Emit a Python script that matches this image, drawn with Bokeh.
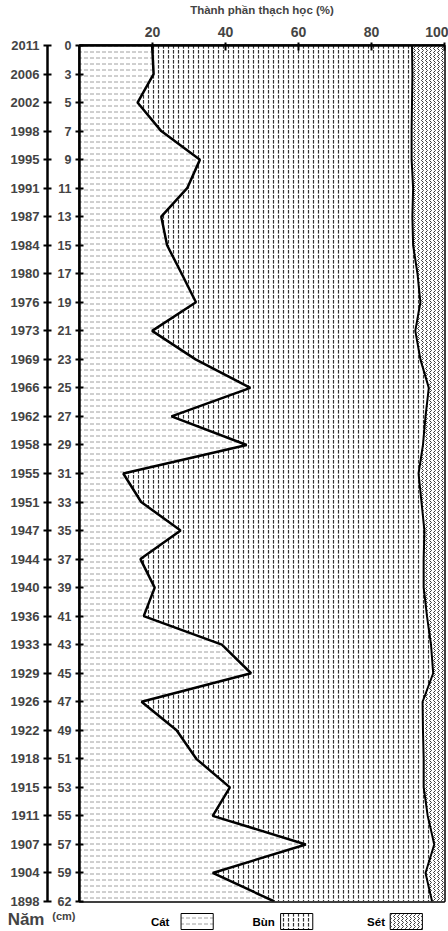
#Sediment core: lithologic composition by depth

#Import the required packages

from bokeh.plotting import figure
from bokeh.layouts import column
from bokeh.models import LinearAxis, FixedTicker, Range1d
from bokeh.core.properties import value
from bokeh.embed import file_html
from bokeh.resources import INLINE

#Values (top to bottom of the core)

depth_cm = ["0", "3", "5", "7", "9", "11", "13", "15", "17", "19", "21", "23", "25", "27", "29",
            "31", "33", "35", "37", "39", "41", "43", "45", "47", "49", "51", "53", "55", "57", "59", "62"]

years = ["2011", "2006", "2002", "1998", "1995", "1991", "1987", "1984", "1980", "1976", "1973", "1969",
         "1966", "1962", "1958", "1955", "1951", "1947", "1944", "1940", "1936", "1933", "1929", "1926",
         "1922", "1918", "1915", "1911", "1907", "1904", "1898"]

# sand (Cát) %
cat = [19.9, 20.3, 15.9, 22.4, 33.0, 29.5, 22.4, 24.0, 28.0, 31.9, 19.9, 31.8, 46.8, 25.2, 45.8,
       12.0, 16.9, 27.7, 16.7, 20.6, 17.6, 39.0, 47.0, 17.0, 26.6, 32.0, 41.2, 36.5, 62.0, 36.5, 53.4]

# clay (Sét) %
set_ = [8.9, 8.8, 8.9, 9.0, 9.0, 8.6, 8.8, 8.6, 7.4, 6.6, 8.0, 6.6, 4.3, 5.2, 5.9,
        7.1, 6.3, 5.5, 5.7, 5.7, 4.8, 3.7, 3.1, 6.0, 5.9, 5.7, 5.7, 4.6, 2.8, 5.2, 3.4]

x_ticks = [20, 40, 60, 80, 100]

legend_names = ["Cát", "Bùn", "Sét"]

#Derived boundaries

n = len(depth_cm)
idx = list(range(n))
upper = [100 - s for s in set_]
zeros = [0] * n
hundreds = [100] * n

FONT = "Liberation Sans"

#Create the main figure

p = figure(width=448, height=908, x_range=Range1d(0, 100), y_range=Range1d(n - 1, 0),
           x_axis_location="above", output_backend="svg", toolbar_location=None,
           min_border_left=0, min_border_right=4, min_border_top=0, min_border_bottom=7)

p.grid.visible = False
p.outline_line_color = "black"
p.outline_line_width = 2.5
p.background_fill_color = "white"

#Styles for the three sediment layers

sand_style = dict(fill_color="white", hatch_pattern="horizontal_dash", hatch_scale=6, hatch_weight=1, hatch_color="#a0a0a0")
mud_style = dict(fill_color="white", hatch_pattern="vertical_dash", hatch_scale=5, hatch_weight=1.2, hatch_color="#333333")
clay_style = dict(fill_color="white", hatch_pattern="vertical_wave", hatch_scale=4, hatch_weight=0.9, hatch_color="#222222")

p.harea(y=idx, x1=zeros, x2=cat, **sand_style)
p.harea(y=idx, x1=cat, x2=upper, **mud_style)
p.harea(y=idx, x1=upper, x2=hundreds, **clay_style)

p.line(cat, idx, line_color="black", line_width=2.5)
p.line(upper, idx, line_color="black", line_width=2)

#Top axis

xa = p.xaxis[0]
xa.ticker = FixedTicker(ticks=x_ticks)
xa.axis_label = "Thành phần thạch học (%)"
xa.axis_label_text_font = FONT
xa.axis_label_text_font_style = "bold"
xa.axis_label_text_font_size = "11.5px"
xa.axis_label_standoff = 8
xa.major_label_text_font = FONT
xa.major_label_text_font_style = "bold"
xa.major_label_text_font_size = "14px"
xa.major_label_standoff = 6
xa.major_tick_in = 5
xa.major_tick_out = 3
xa.major_tick_line_width = 2
xa.axis_line_width = 2.5
xa.minor_tick_line_color = None

#Depth axis

ya = p.yaxis[0]
ya.ticker = FixedTicker(ticks=idx)
ya.major_label_overrides = {i: d for i, d in enumerate(depth_cm)}
ya.major_label_text_font = FONT
ya.major_label_text_font_style = "bold"
ya.major_label_text_font_size = "12.5px"
ya.major_label_standoff = 4
ya.major_tick_in = 4
ya.major_tick_out = 4
ya.major_tick_line_width = 2
ya.axis_line_width = 2.5
ya.minor_tick_line_color = None
ya.axis_label = " "
ya.axis_label_text_font_size = "3px"
ya.axis_label_standoff = 1

#Year axis

year_axis = LinearAxis(ticker=FixedTicker(ticks=idx),
                       major_label_overrides={i: y for i, y in enumerate(years)})
year_axis.major_label_text_font = FONT
year_axis.major_label_text_font_style = "bold"
year_axis.major_label_text_font_size = "13px"
year_axis.major_label_standoff = 4
year_axis.major_tick_in = 4
year_axis.major_tick_out = 4
year_axis.major_tick_line_width = 2
year_axis.axis_line_width = 2.5
year_axis.minor_tick_line_color = None
year_axis.axis_label = " "
year_axis.axis_label_text_font_size = "3px"
year_axis.axis_label_standoff = 1
p.add_layout(year_axis, "left")

#Strip below the chart: unit captions and the legend
#(its frame lines up with the main frame, so x is in page pixels)

leg = figure(width=448, height=23, x_range=Range1d(81, 444), y_range=Range1d(0, 23),
             output_backend="svg", toolbar_location=None,
             min_border_left=0, min_border_right=4, min_border_top=0, min_border_bottom=0)
leg.xaxis.visible = False
leg.grid.visible = False
leg.outline_line_color = None

def caption_axis(y, text, size, standoff):
    ax = LinearAxis(ticker=FixedTicker(ticks=[y]), major_label_overrides={y: text})
    ax.major_label_text_font = FONT
    ax.major_label_text_font_style = "bold"
    ax.major_label_text_font_size = size
    ax.major_label_standoff = standoff
    ax.major_tick_in = 0
    ax.major_tick_out = 0
    ax.axis_line_color = None
    ax.major_tick_line_color = None
    ax.minor_tick_line_color = None
    return ax

leg.yaxis.visible = False
leg.add_layout(caption_axis(18, "(cm)", "11px", 4), "left")
leg.add_layout(caption_axis(15, "Năm", "17px", 5), "left")

text_x = [152, 253, 367]
box_x = [182, 281, 390]
styles = [sand_style, mud_style, clay_style]
for name, tx, bx, style in zip(legend_names, text_x, box_x, styles):
    leg.text(x=[tx], y=[10], text=[name], text_font=value(FONT), text_font_style="bold",
             text_font_size="11.5px", text_baseline="middle")
    leg.quad(left=[bx], right=[bx + 32], bottom=[2], top=[18],
             line_color="black", line_width=1, **style)

layout = column(p, leg, spacing=0)

#Output the plot

open("out.html", "w").write(file_html(layout, INLINE))
